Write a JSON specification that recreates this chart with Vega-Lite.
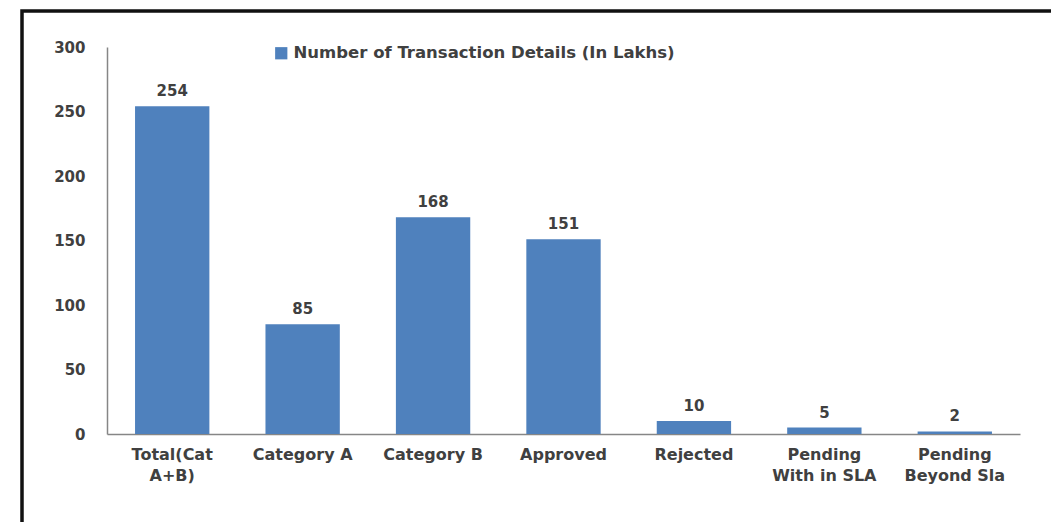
{
  "$schema": "https://vega.github.io/schema/vega-lite/v6.json",
  "autosize": "none",
  "width": 1033,
  "height": 515,
  "padding": {"left": 22, "top": 11, "right": 0, "bottom": 0},
  "background": "white",
  "data": {
    "values": [
      {"category": "Total(Cat|A+B)", "value": 254, "series": "Number of Transaction Details (In Lakhs)"},
      {"category": "Category A", "value": 85, "series": "Number of Transaction Details (In Lakhs)"},
      {"category": "Category B", "value": 168, "series": "Number of Transaction Details (In Lakhs)"},
      {"category": "Approved", "value": 151, "series": "Number of Transaction Details (In Lakhs)"},
      {"category": "Rejected", "value": 10, "series": "Number of Transaction Details (In Lakhs)"},
      {"category": "Pending|With in SLA", "value": 5, "series": "Number of Transaction Details (In Lakhs)"},
      {"category": "Pending|Beyond Sla", "value": 2, "series": "Number of Transaction Details (In Lakhs)"}
    ]
  },
  "encoding": {
    "x": {
      "field": "category",
      "type": "nominal",
      "sort": null,
      "scale": {"range": [85, 998], "paddingInner": 0.43, "paddingOuter": 0.215},
      "axis": {
        "title": null,
        "offset": -92,
        "labelAngle": 0,
        "labelExpr": "split(datum.label, '|')",
        "labelFont": "DejaVu Sans",
        "labelFontSize": 16,
        "labelFontWeight": "bold",
        "labelColor": "#404040",
        "labelPadding": 12,
        "labelLineHeight": 21,
        "ticks": false,
        "domainColor": "#868686",
        "domainWidth": 1.5
      }
    },
    "y": {
      "field": "value",
      "type": "quantitative",
      "scale": {"domain": [0, 300], "nice": false, "range": [423, 36]},
      "axis": {
        "title": null,
        "offset": -85,
        "values": [0, 50, 100, 150, 200, 250, 300],
        "grid": false,
        "ticks": false,
        "labelFont": "DejaVu Sans",
        "labelFontSize": 15,
        "labelFontWeight": "bold",
        "labelColor": "#404040",
        "labelPadding": 22,
        "domainColor": "#868686",
        "domainWidth": 1.5
      }
    }
  },
  "layer": [
    {
      "mark": {"type": "bar"},
      "encoding": {
        "color": {
          "field": "series",
          "type": "nominal",
          "scale": {"range": ["#4F81BD"]},
          "legend": {
            "title": null,
            "orient": "none",
            "legendX": 251,
            "legendY": 34,
            "symbolType": "square",
            "symbolSize": 150,
            "symbolStrokeWidth": 0,
            "labelFont": "DejaVu Sans",
            "labelFontSize": 16.5,
            "labelFontWeight": "bold",
            "labelColor": "#404040",
            "labelOffset": 4,
            "labelLimit": 0
          }
        }
      }
    },
    {
      "mark": {
        "type": "text",
        "dy": -15,
        "font": "DejaVu Sans",
        "fontSize": 15,
        "fontWeight": "bold",
        "color": "#404040"
      },
      "encoding": {
        "text": {"field": "value", "type": "quantitative"}
      }
    }
  ],
  "config": {"view": {"stroke": "#111111", "strokeWidth": 3.5}}
}
